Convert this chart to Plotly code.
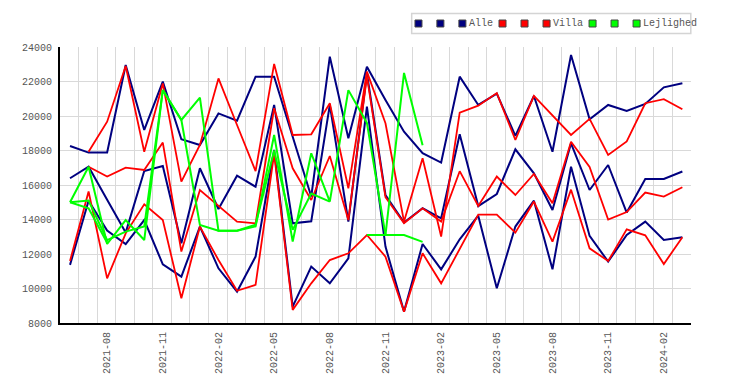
import plotly.graph_objects as go

months = ["2021-06", "2021-07", "2021-08", "2021-09", "2021-10", "2021-11", "2021-12",
          "2022-01", "2022-02", "2022-03", "2022-04", "2022-05", "2022-06", "2022-07",
          "2022-08", "2022-09", "2022-10", "2022-11", "2022-12", "2023-01", "2023-02",
          "2023-03", "2023-04", "2023-05", "2023-06", "2023-07", "2023-08", "2023-09",
          "2023-10", "2023-11", "2023-12", "2024-01", "2024-02", "2024-03"]
tick_labels = ["2021-08", "2021-11", "2022-02", "2022-05", "2022-08", "2022-11",
               "2023-02", "2023-05", "2023-08", "2023-11", "2024-02"]

alle_1 = [18260, 17880, 17880, 22960, 19190, 21990, 18650, 18320, 20150, 19730, 22280, 22280,
          18800, 15330, 23440, 18710, 22860, 20930, 19090, 17840, 17300, 22280, 20640, 21300,
          18850, 21160, 17930, 23540, 19810, 20640, 20290, 20700, 21660, 21900]
alle_2 = [16390, 17060, 15150, 13240, 16810, 17100, 12620, 16970, 14610, 16540, 15900, 20640,
          13780, 13900, 20640, 13880, 22470, 15420, 13820, 14650, 14070, 18940, 14780, 15480,
          18070, 16680, 14550, 18420, 15710, 17160, 14400, 16350, 16350, 16780]
alle_3 = [11370, 15090, 13360, 12580, 13970, 11400, 10690, 13590, 11170, 9820, 11850, 18030,
          8950, 11270, 10300, 11750, 20540, 12430, 8660, 12580, 11110, 12850, 14220, 10010,
          13590, 15090, 11110, 17060, 13050, 11560, 13100, 13880, 12810, 12970]

villa_1 = [None, 17930, 19670, 22900, 17930, 21890, 16200, 18320, 22180, 19480, 16800, 23020,
           18900, 18940, 20740, 15810, 22570, 19580, 13880, 17550, 13010, 20200, 20600, 21330,
           18610, 21170, 20040, 18900, 19830, 17740, 18530, 20740, 20980, 20390]
villa_2 = [None, 17060, 16490, 17010, 16870, 18460, 12140, 15710, 14800, 13880, 13780, 20450,
           16970, 15130, 17680, 13970, 22300, 15300, 13780, 14650, 13880, 16800, 14790, 16490,
           15420, 16640, 14940, 18510, 17050, 13990, 14430, 15560, 15330, 15870]
villa_3 = [11600, 15620, 10590, 13200, 14880, 13970, 9430, 13590, 11650, 9870, 10210, 17800,
           8760, 10300, 11650, 12040, 13100, 11850, 8660, 12040, 10300, 12300, 14280, 14280,
           13240, 15040, 12720, 15730, 12330, 11590, 13430, 13080, 11420, 12970]

lejl_1 = [15000, 17060, 12580, 13970, 12810, 21500, 19770, 21070, 13350, 13350, 13600, 18900,
          12720, 17840, 15040, 21500, 19600, 13100, 13100, 12700, None, None, None, None,
          None, None, None, None, None, None, None, None, None, None]
lejl_2 = [15000, 15100, 12800, 13300, 13590, 21500, 19770, 13680, 13350, 13350, 13700, 18000,
          13400, 15500, 15040, None, None, None, None, None, None, None, None, None,
          None, None, None, None, None, None, None, None, None, None]
lejl_3 = [15000, 14650, 12650, None, None, None, None, None, None, None, None, None,
          None, None, None, None, 13100, 13100, 22500, 18300, None, None, None, None,
          None, None, None, None, None, None, None, None, None, None]

groups = [
    ("Alle", "#000080", [alle_1, alle_2, alle_3], 2.0),
    ("Villa", "#ff0000", [villa_1, villa_2, villa_3], 1.8),
    ("Lejlighed", "#00ff00", [lejl_1, lejl_2, lejl_3], 2.0),
]

x = list(range(len(months)))
fig = go.Figure()
for name, color, series, w in groups:
    for k, s in enumerate(series):
        fig.add_trace(go.Scatter(
            x=x, y=s, mode="lines", name=name if k == 2 else "",
            line=dict(color=color, width=w), showlegend=False,
            hovertext=months, connectgaps=False))

FONT = "Liberation Mono, DejaVu Sans Mono, monospace"
GRID = "#d9d9d9"

fig.update_xaxes(
    range=[-0.54, 33.465], tickmode="array",
    tickvals=[months.index(t) for t in tick_labels], ticktext=tick_labels,
    tickangle=-90, showgrid=False, zeroline=False, automargin=False,
    showline=True, linecolor="black", linewidth=2,
    ticks="outside", ticklen=3, tickcolor="rgba(0,0,0,0)",
    tickfont=dict(family=FONT, size=10, color="#555555"),
    minor=dict(tickmode="linear", tick0=0.46, dtick=1, showgrid=True,
               gridcolor=GRID, gridwidth=1, ticks=""),
)
fig.update_yaxes(
    range=[8000, 24000], dtick=2000, tick0=8000, tickformat="d",
    showgrid=True, gridcolor=GRID, automargin=False,
    gridwidth=1, zeroline=False, showline=True, linecolor="black", linewidth=2,
    ticks="outside", ticklen=4, tickcolor="rgba(0,0,0,0)",
    tickfont=dict(family=FONT, size=10, color="#555555"),
)

# manual legend (pixel positions converted to paper coordinates)
L, R, T, B = 60, 690.7, 47, 323
def px(v):
    return (v - L) / (R - L)
def py(v):
    return (B - v) / (B - T)

shapes = [dict(type="rect", xref="paper", yref="paper", x0=px(411.5), x1=px(690.5),
               y0=py(33.5), y1=py(13.5), line=dict(color="#d4d4d4", width=1.5),
               fillcolor="white", layer="above")]
sq_x = [[418.3, 440.2, 462.2], [502.3, 524.3, 546.3], [592.3, 614.3, 636.3]]
txt_x = [466.5, 550.8, 640.6]
annotations = []
for (name, color, _, _), xs, tx in zip(groups, sq_x, txt_x):
    for cx in xs:
        shapes.append(dict(type="rect", xref="paper", yref="paper",
                           x0=px(cx - 3.5), x1=px(cx + 3.5), y0=py(27), y1=py(20),
                           fillcolor=color, line=dict(color="#444444", width=1),
                           layer="above"))
    annotations.append(dict(xref="paper", yref="paper", x=px(tx), y=py(23.5),
                            xanchor="left", yanchor="middle", text=name, showarrow=False,
                            font=dict(family=FONT, size=10, color="#555555")))

fig.update_layout(
    width=750, height=385, margin=dict(l=60, r=59.3, t=47, b=62),
    paper_bgcolor="white", plot_bgcolor="white", showlegend=False,
    shapes=shapes, annotations=annotations,
)
fig.write_html("out.html", config={"displayModeBar": False},
               post_script="document.body.style.margin='0';")
